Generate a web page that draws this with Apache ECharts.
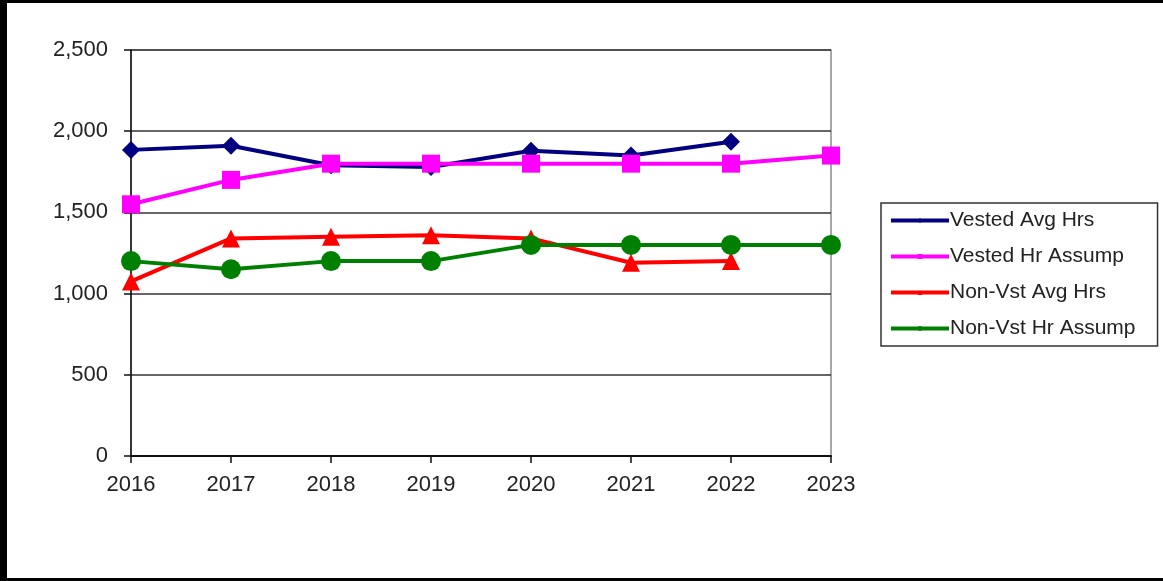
<!DOCTYPE html>
<html>
<head>
<meta charset="utf-8">
<script src="https://cdn.jsdelivr.net/npm/echarts@6/dist/echarts.min.js"></script>
<style>
  html, body { margin: 0; padding: 0; background: #fff; }
  #chart { width: 1163px; height: 581px; }
</style>
</head>
<body>
<div id="chart"></div>
<script>
// years on the x axis
const years = ['2016', '2017', '2018', '2019', '2020', '2021', '2022', '2023'];

// series values
const vestedAvgHrs = [1885, 1910, 1790, 1780, 1880, 1850, 1935, null];
const vestedHrAssump = [1550, 1700, 1800, 1800, 1800, 1800, 1800, 1850];
const nonVstAvgHrs = [1075, 1340, 1350, 1360, 1340, 1190, 1200, null];
const nonVstHrAssump = [1200, 1150, 1200, 1200, 1300, 1300, 1300, 1300];

const textFont = 'Liberation Sans';

function makeLine(name, data, color, symbol, size) {
  return {
    name: name,
    type: 'line',
    data: data,
    symbol: symbol,
    symbolSize: size,
    showSymbol: true,
    connectNulls: false,
    lineStyle: { color: color, width: 4 },
    itemStyle: { color: color },
    emphasis: { disabled: true },
    animation: false
  };
}

let myChart = echarts.init(document.getElementById('chart'));
myChart.setOption({
  backgroundColor: '#fff',
  animation: false,
  grid: {
    left: 131,
    top: 50,
    right: 332,
    bottom: 125,
    show: true,
    borderColor: '#8a8a8a',
    borderWidth: 1.5
  },
  legend: {
    orient: 'vertical',
    left: 881,
    top: 203,
    padding: [7, 22, 7, 8],
    itemGap: 15,
    itemWidth: 58,
    itemHeight: 6,
    borderColor: '#333',
    borderWidth: 1.5,
    lineStyle: { width: 4 },
    textStyle: { fontFamily: textFont, fontSize: 21, color: '#222', padding: [0, 0, 0, -4] },
    data: ['Vested Avg Hrs', 'Vested Hr Assump', 'Non-Vst Avg Hrs', 'Non-Vst Hr Assump']
  },
  xAxis: {
    type: 'category',
    data: years,
    boundaryGap: false,
    axisLine: { lineStyle: { color: '#111', width: 2 } },
    axisTick: { show: true, length: 7, alignWithLabel: true, lineStyle: { color: '#111', width: 1.5 } },
    axisLabel: { fontFamily: textFont, fontSize: 22, color: '#222', margin: 18 },
    splitLine: { show: false }
  },
  yAxis: {
    type: 'value',
    min: 0,
    max: 2500,
    interval: 500,
    axisLine: { show: true, lineStyle: { color: '#111', width: 1.5 } },
    axisTick: { show: true, length: 7, lineStyle: { color: '#111', width: 1.5 } },
    axisLabel: {
      fontFamily: textFont, fontSize: 22, color: '#222', margin: 23,
      formatter: function (v) { return v.toLocaleString('en-US'); }
    },
    splitLine: { show: true, lineStyle: { color: '#333', width: 1.5 } }
  },
  graphic: [
    { type: 'rect', left: 0, top: 0, shape: { width: 7, height: 581 }, style: { fill: '#000' }, silent: true },
    { type: 'rect', left: 0, top: 0, shape: { width: 1163, height: 3 }, style: { fill: '#000' }, silent: true },
    { type: 'rect', left: 0, top: 578, shape: { width: 1163, height: 3 }, style: { fill: '#000' }, silent: true }
  ],
  series: [
    makeLine('Vested Avg Hrs', vestedAvgHrs, '#000080', 'diamond', 18),
    makeLine('Vested Hr Assump', vestedHrAssump, '#ff00ff', 'rect', 18),
    makeLine('Non-Vst Avg Hrs', nonVstAvgHrs, '#ff0000', 'triangle', 18),
    makeLine('Non-Vst Hr Assump', nonVstHrAssump, '#008000', 'circle', 20)
  ]
});
window.addEventListener('resize', () => {
  myChart.resize();
});
</script>
</body>
</html>
